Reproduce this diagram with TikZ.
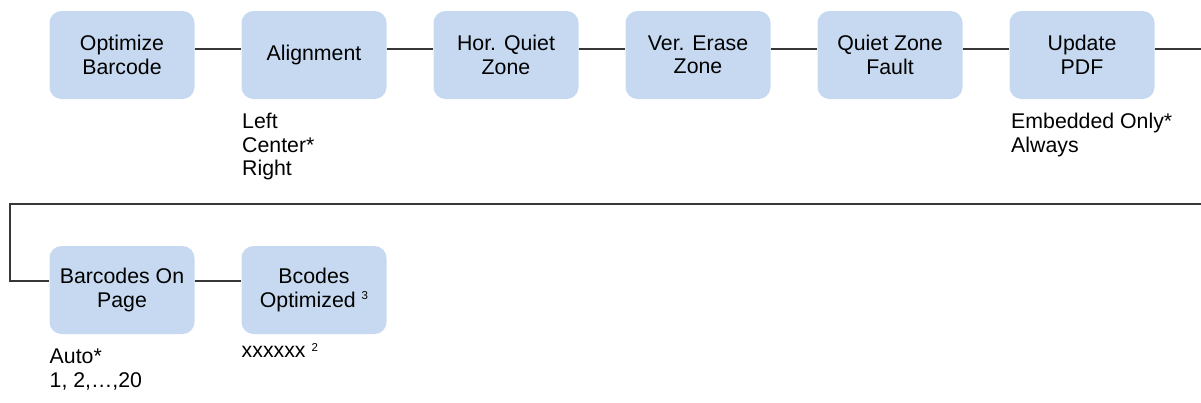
\documentclass[tikz,border=0pt]{standalone}
\usepackage{fontspec}
\setmainfont{Liberation Sans}
\definecolor{boxblue}{RGB}{198,217,240}
\definecolor{linegray}{RGB}{55,55,55}
\tikzset{
  menubox/.style={draw=none, fill=boxblue, rounded corners=12pt, minimum width=145pt, minimum height=88pt,
    align=center, inner sep=0pt, font=\fontsize{21.3}{23.5}\selectfont},
  optlabel/.style={anchor=north west, align=left, inner sep=0pt, font=\fontsize{21.3}{23.5}\selectfont},
  conn/.style={draw=linegray, line width=1.1pt}
}
\newcommand{\supnum}[2]{\raisebox{#1}{\fontsize{11.5}{11.5}\selectfont #2}}
\begin{document}
\begin{tikzpicture}[x=1pt,y=-1pt]
\useasboundingbox (0,0) rectangle (1201,402);
\fill[white] (0,0) rectangle (1201,402);
% row 1
\node[menubox] (b1) at (122,55) {Optimize\\Barcode};
\node[menubox] (b2) at (314,55) {Alignment};
\node[menubox] (b3) at (506,55) {Hor. Quiet\\Zone};
\node[menubox] (b4) at (698,55) {Ver. Erase\\Zone};
\node[menubox] (b5) at (890,55) {Quiet Zone\\Fault};
\node[menubox] (b6) at (1082,55) {Update\\PDF};
% row 2
\node[menubox] (b7) at (122,290) {Barcodes On\\Page};
\node[menubox] (b8) at (314,290) {Bcodes\\Optimized \supnum{7.5pt}{3}};
% labels
\node[optlabel] (l2) at (242,113) {Left\\Center*\\Right};
\node[optlabel] (l6) at (1011,113) {Embedded Only*\\Always};
\node[optlabel] (l7) at (49.5,349) {Auto*\\1, 2,\ldots,20};
\node[optlabel] (l8) at (241.5,343) {xxxxxx \supnum{6.5pt}{2}};
% connectors
\coordinate (r1end) at (1201,49);
\coordinate (r2right) at (1201,204);
\coordinate (r2left) at (10,204);
\draw[conn] ([yshift=6pt]b1.east) -- ([yshift=6pt]b2.west);
\draw[conn] ([yshift=6pt]b2.east) -- ([yshift=6pt]b3.west);
\draw[conn] ([yshift=6pt]b3.east) -- ([yshift=6pt]b4.west);
\draw[conn] ([yshift=6pt]b4.east) -- ([yshift=6pt]b5.west);
\draw[conn] ([yshift=6pt]b5.east) -- ([yshift=6pt]b6.west);
\draw[conn] ([yshift=6pt]b6.east) -- (r1end);
\draw[conn] (r2right) -- (r2left) |- ([yshift=9pt]b7.west);
\draw[conn] ([yshift=9pt]b7.east) -- ([yshift=9pt]b8.west);
\end{tikzpicture}
\end{document}
